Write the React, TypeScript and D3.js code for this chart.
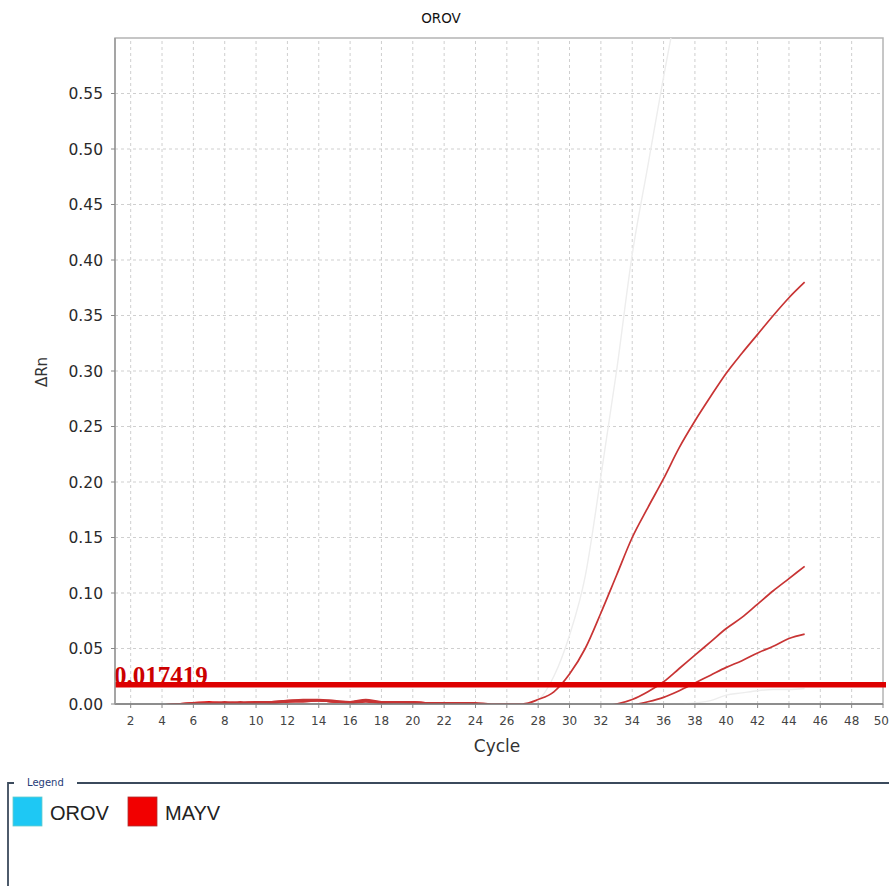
import { useRef, useEffect } from "react";
import * as d3 from "d3";

// cycle numbers 1..45
const cycles = d3.range(1, 46);

// MAYV amplification curves (dRn per cycle)
const mayvA = [
  -0.002, -0.002, -0.001, -0.001, 0.0, 0.001, 0.001, 0.002, 0.001, 0.002,
  0.002, 0.003, 0.004, 0.004, 0.003, 0.002, 0.004, 0.002, 0.002, 0.002,
  0.001, 0.001, 0.001, 0.001, 0.0, 0.0, 0.0, 0.004, 0.011, 0.027,
  0.05, 0.082, 0.116, 0.15, 0.177, 0.203, 0.231, 0.255, 0.277, 0.298,
  0.316, 0.333, 0.35, 0.366, 0.38,
];
const mayvB = [
  -0.002, -0.002, -0.002, -0.001, 0.0, 0.0, 0.001, 0.001, 0.002, 0.001,
  0.002, 0.003, 0.003, 0.003, 0.002, 0.002, 0.003, 0.002, 0.002, 0.001,
  0.001, 0.0, 0.0, -0.001, -0.002, -0.002, -0.002, -0.002, -0.002, -0.002,
  -0.002, -0.002, 0.0, 0.004, 0.011, 0.02, 0.032, 0.044, 0.056, 0.068,
  0.078, 0.09, 0.102, 0.113, 0.124,
];
const mayvC = [
  -0.002, -0.002, -0.002, -0.002, -0.001, 0.0, 0.0, 0.001, 0.001, 0.001,
  0.001, 0.002, 0.002, 0.003, 0.002, 0.001, 0.002, 0.001, 0.001, 0.001,
  0.0, 0.0, -0.001, -0.001, -0.002, -0.002, -0.002, -0.002, -0.002, -0.002,
  -0.002, -0.002, -0.002, -0.001, 0.002, 0.006, 0.012, 0.019, 0.026, 0.033,
  0.039, 0.046, 0.052, 0.059, 0.063,
];
const mayvNeg = [
  -0.002, -0.002, -0.002, -0.001, 0.0, 0.001, 0.002, 0.001, 0.001, 0.002,
  0.001, 0.002, 0.003, 0.003, 0.002, 0.002, 0.003, 0.001, 0.002, 0.002,
  0.001, 0.001, 0.001, 0.0, -0.001, -0.002, -0.002, -0.002, -0.002, -0.002,
  -0.002, -0.002, -0.002, -0.002, -0.002, -0.002, -0.002, -0.002, -0.002, -0.002,
  -0.002, -0.002, -0.002, -0.002, -0.002,
];

// OROV curves (deselected, drawn faint)
const orovA = [
  -0.002, -0.002, -0.002, -0.002, -0.002, -0.002, -0.002, -0.002, -0.002, -0.002,
  -0.002, -0.002, -0.002, -0.002, -0.002, -0.002, -0.002, -0.002, -0.002, -0.002,
  -0.002, -0.002, -0.001, 0.0, 0.0, 0.0, 0.0, 0.004, 0.025, 0.062,
  0.115, 0.205, 0.3, 0.405, 0.485, 0.565, 0.64, 0.71, 0.77, 0.82,
  0.86, 0.89, 0.91, 0.93, 0.945,
];
const orovB = [
  -0.002, -0.002, -0.002, -0.002, -0.002, -0.002, -0.002, -0.002, -0.002, -0.002,
  -0.002, -0.002, -0.002, -0.002, -0.002, -0.002, -0.002, -0.002, -0.002, -0.002,
  -0.002, -0.002, -0.002, -0.002, -0.002, -0.002, -0.002, -0.002, -0.002, -0.002,
  -0.002, -0.002, -0.002, -0.002, -0.001, 0.0, 0.0, 0.001, 0.003, 0.008,
  0.01, 0.012, 0.013, 0.013, 0.014,
];

const threshold = 0.017419;
const yTicks = d3.range(0, 0.56, 0.05);
const xTicks = d3.range(2, 51, 2);
const legendItems = ["OROV", "MAYV"];
const legendColors = ["#1ec8f4", "#f20000"];

export default function App() {
  const ref = useRef(null);

  useEffect(() => {
    const svg = d3.select(ref.current);
    svg.selectAll("*").remove();

    const margin = { top: 38, right: 6, bottom: 182, left: 115 };
    const width = 889;
    const height = 886;

    const x = d3.scaleLinear().domain([1, 50]).range([margin.left, width - margin.right]);
    const y = d3.scaleLinear().domain([0, 0.6]).range([height - margin.bottom, margin.top]);

    svg
      .append("defs")
      .append("clipPath")
      .attr("id", "plotclip")
      .append("rect")
      .attr("x", margin.left)
      .attr("y", margin.top)
      .attr("width", x(50) - margin.left)
      .attr("height", y(0) - margin.top);

    // grid
    const grid = svg.append("g").attr("stroke", "#cfcfcf").attr("stroke-dasharray", "3,3");
    grid
      .selectAll("line.v")
      .data(xTicks.filter((d) => d < 50))
      .join("line")
      .attr("x1", (d) => x(d))
      .attr("x2", (d) => x(d))
      .attr("y1", y(0))
      .attr("y2", margin.top);
    grid
      .selectAll("line.h")
      .data(yTicks.slice(1))
      .join("line")
      .attr("x1", margin.left)
      .attr("x2", x(50))
      .attr("y1", (d) => y(d))
      .attr("y2", (d) => y(d));

    // frame
    svg
      .append("rect")
      .attr("x", margin.left)
      .attr("y", margin.top)
      .attr("width", x(50) - margin.left)
      .attr("height", y(0) - margin.top)
      .attr("fill", "none")
      .attr("stroke", "#b4b4b4")
      .attr("stroke-width", 1.5);

    const line = d3
      .line()
      .x((d, i) => x(cycles[i]))
      .y((d) => y(d))
      .curve(d3.curveMonotoneX);

    const plot = svg.append("g").attr("clip-path", "url(#plotclip)");

    [orovB, orovA].forEach((s) => {
      plot
        .append("path")
        .attr("d", line(s))
        .attr("fill", "none")
        .attr("stroke", "#ededed")
        .attr("stroke-width", 1.4);
    });

    [mayvNeg, mayvC, mayvB, mayvA].forEach((s, i) => {
      plot
        .append("path")
        .attr("d", line(s))
        .attr("fill", "none")
        .attr("stroke", i === 0 ? "#e01010" : "#c83434")
        .attr("stroke-width", 1.7);
    });

    // threshold
    svg
      .append("text")
      .attr("x", margin.left - 1)
      .attr("y", y(threshold) - 1)
      .attr("font-family", "'Liberation Serif', 'DejaVu Serif', serif")
      .attr("font-weight", "bold")
      .attr("font-size", 25)
      .attr("fill", "#cc0000")
      .text(threshold.toString());
    svg
      .append("line")
      .attr("x1", margin.left)
      .attr("x2", width - 3)
      .attr("y1", y(threshold))
      .attr("y2", y(threshold))
      .attr("stroke", "#dd0000")
      .attr("stroke-width", 5.5);

    // axes
    svg
      .append("line")
      .attr("x1", margin.left)
      .attr("x2", x(50))
      .attr("y1", y(0))
      .attr("y2", y(0))
      .attr("stroke", "#7a7a7a")
      .attr("stroke-width", 1.5);
    svg
      .append("line")
      .attr("x1", margin.left)
      .attr("x2", margin.left)
      .attr("y1", y(0))
      .attr("y2", margin.top)
      .attr("stroke", "#9a9a9a")
      .attr("stroke-width", 1.5);

    const yAxis = svg.append("g").attr("font-family", "'DejaVu Sans', sans-serif");
    yAxis
      .selectAll("line")
      .data(yTicks)
      .join("line")
      .attr("x1", margin.left - 4)
      .attr("x2", margin.left)
      .attr("y1", (d) => y(d))
      .attr("y2", (d) => y(d))
      .attr("stroke", "#888");
    yAxis
      .selectAll("text")
      .data(yTicks)
      .join("text")
      .attr("x", margin.left - 12)
      .attr("y", (d) => y(d))
      .attr("dy", "0.36em")
      .attr("text-anchor", "end")
      .attr("font-size", 15.5)
      .attr("fill", "#2a2a2a")
      .text((d) => d3.format(".2f")(d));

    const xAxis = svg.append("g").attr("font-family", "'DejaVu Sans', sans-serif");
    xAxis
      .selectAll("line")
      .data(xTicks)
      .join("line")
      .attr("x1", (d) => x(d))
      .attr("x2", (d) => x(d))
      .attr("y1", y(0))
      .attr("y2", y(0) + 4)
      .attr("stroke", "#888");
    xAxis
      .selectAll("text")
      .data(xTicks)
      .join("text")
      .attr("x", (d) => x(d))
      .attr("y", y(0) + 21)
      .attr("text-anchor", (d) => (d === 50 ? "end" : "middle"))
      .attr("dx", (d) => (d === 50 ? 6 : 0))
      .attr("font-size", 12)
      .attr("fill", "#444")
      .text((d) => d);

    // titles
    svg
      .append("text")
      .attr("x", 441)
      .attr("y", 23)
      .attr("text-anchor", "middle")
      .attr("font-family", "'DejaVu Sans', sans-serif")
      .attr("font-size", 13.5)
      .attr("fill", "#111")
      .text("OROV");
    svg
      .append("text")
      .attr("x", (margin.left + x(50)) / 2 - 2)
      .attr("y", 752)
      .attr("text-anchor", "middle")
      .attr("font-family", "'DejaVu Sans', sans-serif")
      .attr("font-size", 17)
      .attr("fill", "#333")
      .text("Cycle");
    svg
      .append("text")
      .attr("transform", "translate(47,372) rotate(-90)")
      .attr("text-anchor", "middle")
      .attr("font-family", "'DejaVu Sans', sans-serif")
      .attr("font-size", 15)
      .attr("fill", "#333")
      .text("ΔRn");

    // legend box
    const lg = svg.append("g");
    lg.append("path")
      .attr("d", "M8,891 V783 H14 M77,783 H889")
      .attr("fill", "none")
      .attr("stroke", "#3b4a5c")
      .attr("stroke-width", 1.8);
    lg.append("text")
      .attr("x", 27)
      .attr("y", 786)
      .attr("font-family", "'DejaVu Sans', sans-serif")
      .attr("font-size", 10)
      .attr("fill", "#1f3c78")
      .text("Legend");
    const items = lg
      .selectAll("g.item")
      .data(legendItems)
      .join("g")
      .attr("transform", (d, i) => `translate(${i === 0 ? 13 : 128},797)`);
    items
      .append("rect")
      .attr("width", 29)
      .attr("height", 29)
      .attr("fill", (d, i) => legendColors[i])
      .attr("stroke", (d, i) => (i === 0 ? "#6cc" : "#a33"))
      .attr("stroke-width", 0.8);
    items
      .append("text")
      .attr("x", 37)
      .attr("y", 23)
      .attr("font-family", "'Liberation Sans', Arial, sans-serif")
      .attr("font-size", 20)
      .attr("fill", "#222")
      .text((d) => d);
  }, []);

  return (
    <svg
      ref={ref}
      width={889}
      height={886}
      style={{ position: "absolute", left: 0, top: 0, background: "#fff" }}
    />
  );
}
